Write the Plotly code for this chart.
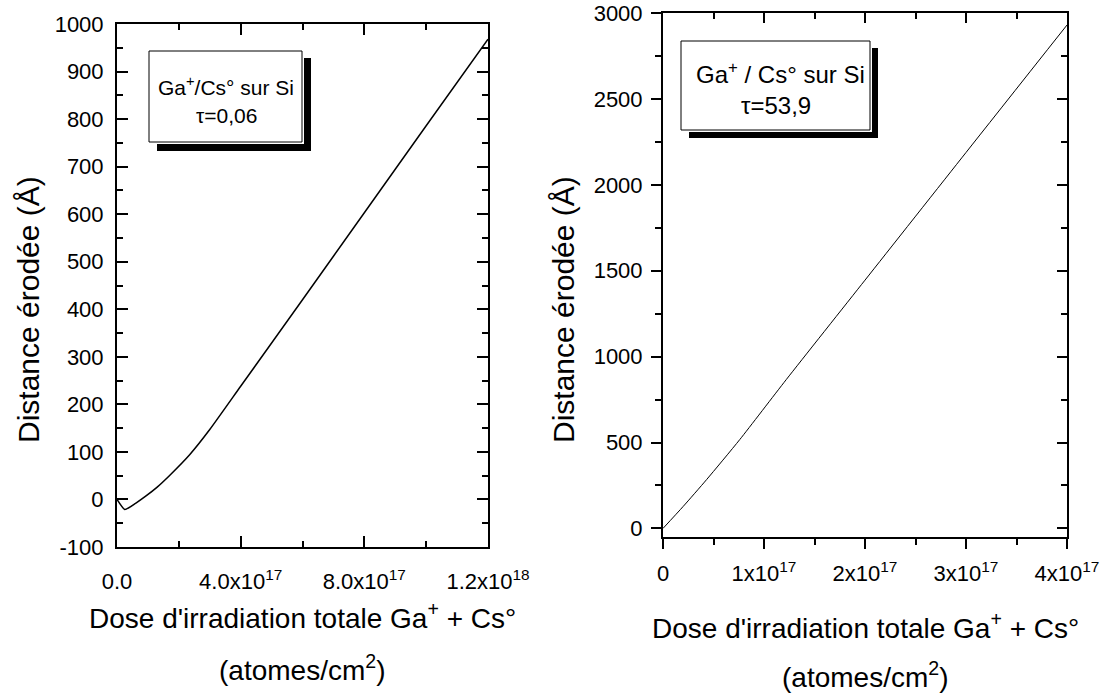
import plotly.graph_objects as go

# ---------------- data ----------------
left_dose = [0, 2.5e16, 6e16, 9.5e16, 1.3e17, 1.71e17, 2.35e17, 3.0e17, 4e17, 6e17, 8e17, 1e18, 1.2e18]
left_depth = [0, -21, -8, 8, 26, 51, 94, 147, 238, 420, 603, 786, 968]

right_dose = [0, 2e16, 4.33e16, 7.6e16, 1.22e17, 2e17, 3e17, 4e17]
right_depth = [0, 128, 285, 517, 866, 1445, 2188, 2930]

left_xticks = [0, 4e17, 8e17, 1.2e18]
left_xlabels = ["0.0", "4.0x10<sup>17</sup>", "8.0x10<sup>17</sup>", "1.2x10<sup>18</sup>"]
left_yticks = [-100, 0, 100, 200, 300, 400, 500, 600, 700, 800, 900, 1000]
left_ylabels = [str(v) for v in left_yticks]

right_xticks = [0, 1e17, 2e17, 3e17, 4e17]
right_xlabels = ["0", "1x10<sup>17</sup>", "2x10<sup>17</sup>", "3x10<sup>17</sup>", "4x10<sup>17</sup>"]
right_yticks = [0, 500, 1000, 1500, 2000, 2500, 3000]
right_ylabels = [str(v) for v in right_yticks]

left_label = ["Ga<sup>+</sup>/Cs° sur Si", "τ=0,06"]
right_label = ["Ga<sup>+</sup> / Cs° sur Si", "τ=53,9"]
ytitle = "Distance érodée (Å)"
xtitle = ["Dose d'irradiation totale Ga<sup>+</sup> + Cs°", "(atomes/cm<sup>2</sup>)"]

# ---------------- layout helpers ----------------
W, H = 1109, 695
FONT = "Arial, Liberation Sans, sans-serif"


def px(x):
    return x / W


def py(y):
    return 1 - y / H


fig = go.Figure()
fig.add_trace(go.Scatter(x=left_dose, y=left_depth, mode="lines",
                         line=dict(color="black", width=1.5, shape="spline", smoothing=0.5),
                         xaxis="x", yaxis="y", showlegend=False, hoverinfo="skip"))
fig.add_trace(go.Scatter(x=right_dose, y=right_depth, mode="lines",
                         line=dict(color="black", width=1, shape="spline", smoothing=0.6),
                         xaxis="x2", yaxis="y2", showlegend=False, hoverinfo="skip"))
fig.add_trace(go.Scatter(x=[], y=[], xaxis="x3", yaxis="y3", showlegend=False))

tickfont = dict(family=FONT, size=22, color="black")
common = dict(showgrid=False, zeroline=False, showline=True, linecolor="black",
              linewidth=2, tickcolor="black", tickwidth=1.5, tickfont=tickfont,
              tickmode="array", automargin=False, fixedrange=True)

fig.update_layout(
    width=W, height=H, margin=dict(l=0, r=0, t=0, b=0, autoexpand=False),
    paper_bgcolor="white", plot_bgcolor="white", showlegend=False,
    font=dict(family=FONT, color="black"),
    xaxis=dict(common, domain=[px(117), px(488)], range=[0, 1.2e18], anchor="y",
               tickvals=left_xticks, ticktext=left_xlabels, ticks="inside", ticklen=11,
               mirror="ticks", ticklabelstandoff=14,
               minor=dict(ticks="inside", ticklen=6, tickmode="linear", tick0=0, dtick=2e17,
                          tickcolor="black", tickwidth=1.5, showgrid=False)),
    yaxis=dict(common, domain=[py(547), py(24)], range=[-100, 1000], anchor="x",
               tickvals=left_yticks, ticktext=left_ylabels, ticks="inside", ticklen=11,
               mirror="ticks", ticklabelstandoff=7,
               minor=dict(ticks="inside", ticklen=6, tickmode="linear", tick0=0, dtick=50,
                          tickcolor="black", tickwidth=1.5, showgrid=False)),
    xaxis2=dict(common, domain=[px(663), px(1067)], range=[0, 4e17], anchor="y2",
                tickvals=right_xticks, ticktext=right_xlabels, ticks="outside", ticklen=10,
                ticklabelstandoff=6,
                minor=dict(ticks="outside", ticklen=6, tickmode="linear", tick0=0, dtick=5e16,
                           tickcolor="black", tickwidth=1.5, showgrid=False)),
    yaxis2=dict(common, domain=[py(537), py(13)], range=[-50, 3000], anchor="x2",
                tickvals=right_yticks, ticktext=right_ylabels, ticks="outside", ticklen=10,
                ticklabelstandoff=4,
                minor=dict(ticks="outside", ticklen=6, tickmode="linear", tick0=0, dtick=250,
                           tickcolor="black", tickwidth=1.5, showgrid=False)),
    xaxis3=dict(common, overlaying="x2", side="top", anchor="y2", range=[0, 4e17],
                tickvals=right_xticks, ticks="inside", ticklen=10, showticklabels=False,
                minor=dict(ticks="inside", ticklen=6, tickmode="linear", tick0=0, dtick=5e16,
                           tickcolor="black", tickwidth=1.5, showgrid=False)),
    yaxis3=dict(common, overlaying="y2", side="right", anchor="x2", range=[-50, 3000],
                tickvals=right_yticks, ticks="inside", ticklen=10, showticklabels=False,
                minor=dict(ticks="inside", ticklen=6, tickmode="linear", tick0=0, dtick=250,
                           tickcolor="black", tickwidth=1.5, showgrid=False)),
)


def rect(x0, y0, x1, y1, fill, line_w=0):
    return dict(type="rect", xref="paper", yref="paper",
                x0=px(x0), x1=px(x1), y0=py(y1), y1=py(y0),
                fillcolor=fill, line=dict(color="black", width=line_w), layer="above")


shapes = [
    rect(157, 58, 311, 151, "black"),
    rect(149, 51, 304, 144, "white"),
    rect(149, 51, 302, 142, "white", 1),
    rect(689, 48, 878, 138, "black"),
    rect(681, 41, 872, 132, "white"),
    rect(681, 41, 870, 130, "white", 1),
]
fig.update_layout(shapes=shapes)


def ann(text, x, y, size, angle=0):
    return dict(text=text, x=px(x), y=py(y), xref="paper", yref="paper",
                xanchor="center", yanchor="middle", showarrow=False, textangle=angle,
                font=dict(family=FONT, size=size, color="black"))


annotations = [
    ann(left_label[0], 226, 86, 21),
    ann(left_label[1], 226, 116, 21),
    ann(right_label[0], 780, 73, 24),
    ann(right_label[1], 776, 106, 24),
    ann(ytitle, 28, 310, 30, -90),
    ann(ytitle, 563, 310, 30, -90),
    ann(xtitle[0], 302, 616, 28),
    ann(xtitle[1], 302, 668, 28),
    ann(xtitle[0], 865, 626, 28),
    ann(xtitle[1], 865, 675, 28),
]
fig.update_layout(annotations=annotations)

fig.write_html("out.html", config=dict(displayModeBar=False),
               post_script="document.body.style.margin='0';document.body.style.overflow='hidden';")
